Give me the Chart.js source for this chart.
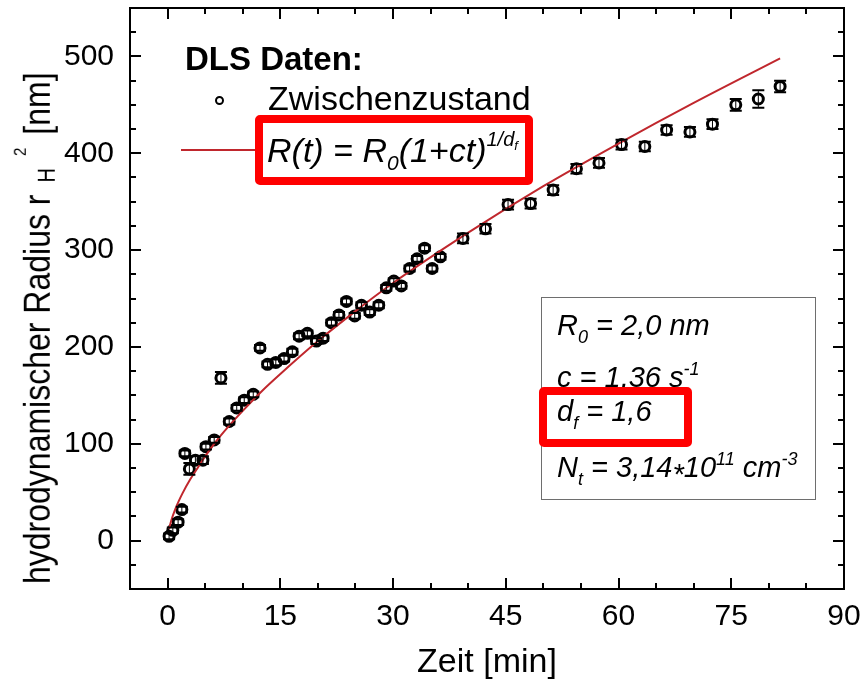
<!DOCTYPE html>
<html lang="de">
  <head>
    <meta charset="UTF-8" />
    <title>DLS Daten – Zwischenzustand</title>
    <script src="https://cdn.jsdelivr.net/npm/chart.js"></script>
    <style>
      * {
        margin: 0;
        padding: 0;
        box-sizing: border-box;
      }
      body {
        background: #fff;
        color: #000;
        font-family: "Liberation Sans", Arial, sans-serif;
      }
      .wrap {
        position: relative;
        width: 862px;
        height: 684px;
      }
      .wrap canvas {
        position: absolute;
        left: 0;
        top: 0;
      }
      .txt {
        position: absolute;
        line-height: 1;
        white-space: nowrap;
      }
      .it {
        font-style: italic;
      }
      /* Achsentitel links, von unten nach oben gelesen */
      .ytitle {
        position: absolute;
        left: 19px;
        top: 584px;
        font-size: 32px;
        line-height: 1;
        white-space: nowrap;
        transform-origin: 0 0;
        transform: rotate(-90deg) scaleY(1.15);
      }
      .ytitle span {
        position: relative;
      }
      .redbox {
        position: absolute;
        border: 8px solid #ff0000;
        border-radius: 5px;
      }
      .annot {
        position: absolute;
        left: 541px;
        top: 297px;
        width: 275px;
        height: 203px;
        border: 1px solid #6e6e6e;
      }
      .lo {
        font-size: 18px;
        vertical-align: -8px;
      }
      .hi {
        font-size: 18px;
        vertical-align: 12px;
      }
    </style>
  </head>
  <body>
    <div class="wrap">
      <canvas id="dlsChart" width="862" height="684"></canvas>

      <div class="ytitle">hydrodynamischer Radius r<span
          style="font-size: 20px; top: 4px; margin-left: 12px">H</span><span
          style="font-size: 15px; top: -21px; margin-left: 12px">2</span><span
          style="margin-left: 13px">[nm]</span></div>

      <!-- Legende -->
      <div class="txt" style="left: 185px; top: 42px; font-size: 33px; font-weight: bold">
        DLS Daten:
      </div>
      <div
        style="position: absolute; left: 215px; top: 96px; width: 9px; height: 9px;
          border: 2px solid #000; border-radius: 50%"
      ></div>
      <div class="txt" style="left: 268px; top: 81px; font-size: 34px">Zwischenzustand</div>
      <div
        style="position: absolute; left: 181px; top: 149px; width: 76px; height: 2px;
          background: #c0272d"
      ></div>
      <div class="txt it" style="left: 267px; top: 129px; font-size: 34px">
        R(t) = R<span style="font-size: 21px; vertical-align: -8px">0</span>(1+ct)<span
          style="font-size: 20px; vertical-align: 16px"
          >1/d<span style="font-size: 13px; vertical-align: -4px">f</span></span
        >
      </div>
      <div class="redbox" style="left: 255px; top: 115px; width: 278px; height: 70px"></div>

      <!-- Parameter der Anpassung -->
      <div class="annot"></div>
      <div class="txt it" style="left: 557px; top: 311px; font-size: 29px">
        R<span class="lo">0</span> = 2,0 nm
      </div>
      <div class="txt it" style="left: 557px; top: 360px; font-size: 29px">
        c = 1,36 s<span class="hi">-1</span>
      </div>
      <div class="txt it" style="left: 557px; top: 397px; font-size: 29px">
        d<span class="lo">f</span> = 1,6
      </div>
      <div class="txt it" style="left: 557px; top: 450px; font-size: 29px">
        N<span class="lo">t</span> = 3,14<span style="vertical-align: -7px">*</span>10<span
          class="hi"
          >11</span
        >
        cm<span class="hi">-3</span>
      </div>
      <div class="redbox" style="left: 539px; top: 387px; width: 153px; height: 60px"></div>
    </div>

    <script>
      // Messwerte (Zeit in min, r_H in nm, Fehler in nm)
      const zeit = [
        0.2, 0.7, 1.4, 1.9, 2.3, 2.9, 3.7, 4.7, 5.1, 6.2, 7.1, 8.2, 9.2, 10.2,
        11.4, 12.3, 13.3, 14.4, 15.5, 16.6, 17.5, 18.6, 19.8, 20.7, 21.8, 22.8,
        23.8, 24.9, 25.8, 26.9, 28.1, 29.1, 30.1, 31.1, 32.2, 33.2, 34.2, 35.2,
        36.3, 39.3, 42.3, 45.3, 48.3, 51.3, 54.4, 57.4, 60.4, 63.5, 66.4, 69.5,
        72.5, 75.6, 78.6, 81.5,
      ];
      const radius = [
        4.4, 10.6, 19, 32, 90, 74, 83, 83, 97, 104, 168, 123, 137, 145, 151, 199,
        182, 184, 188, 195, 211, 214, 206, 209, 225, 233, 247, 232, 243, 236, 243,
        261, 268, 263, 281, 291, 302, 281, 293, 312, 322, 347, 348, 362, 384, 390,
        409, 407, 424, 422, 430, 450, 456, 469,
      ];
      const fehler = [
        3, 3, 3, 3, 3, 6, 4, 4, 3, 3, 6, 3, 3, 3, 3, 3, 3, 3, 3, 3, 3, 3, 3, 3, 3,
        3, 3, 3, 3, 3, 3, 3, 3, 3, 3, 3, 3, 3, 3, 5, 5, 5, 5, 5, 5, 5, 5, 5, 5, 5,
        5, 6, 9, 6,
      ];

      // Anpassungskurve R(t)
      const fitZeit = [
        0.2, 0.5, 1, 1.5, 2, 3, 4, 5, 6.5, 8, 10, 12.5, 15, 20, 25, 30, 40, 50,
        60, 70, 81.5,
      ];
      const fitRadius = [
        12, 21, 32, 41, 49, 63, 75, 87, 103, 117, 134, 154, 172, 206, 237, 266,
        318, 366, 410, 452, 498,
      ];

      const xTicks = [0, 15, 30, 45, 60, 75, 90];
      const yTicks = [0, 100, 200, 300, 400, 500];
      const xMinorStep = 5;
      const yMinorStep = 25;

      const FONT = "'Liberation Sans', Arial, sans-serif";

      const errorBars = {
        id: "errorBars",
        afterDatasetsDraw(chart) {
          const meta = chart.getDatasetMeta(1);
          const y = chart.scales.y;
          const ctx = chart.ctx;
          ctx.save();
          ctx.strokeStyle = "#000";
          meta.data.forEach((pt, i) => {
            const top = y.getPixelForValue(radius[i] + fehler[i]);
            const bot = y.getPixelForValue(radius[i] - fehler[i]);
            ctx.lineWidth = 1;
            ctx.beginPath();
            ctx.moveTo(pt.x, top);
            ctx.lineTo(pt.x, bot);
            ctx.stroke();
            ctx.lineWidth = 2;
            ctx.beginPath();
            ctx.moveTo(pt.x - 6, top);
            ctx.lineTo(pt.x + 6, top);
            ctx.moveTo(pt.x - 6, bot);
            ctx.lineTo(pt.x + 6, bot);
            ctx.stroke();
          });
          ctx.restore();
        },
      };

      // Rahmen mit nach innen zeigenden Ticks auf allen vier Seiten
      const frame = {
        id: "frame",
        afterDraw(chart) {
          const { ctx, chartArea: a, scales } = chart;
          const x = scales.x;
          const y = scales.y;
          ctx.save();
          ctx.strokeStyle = "#000";
          ctx.lineWidth = 2;
          ctx.strokeRect(a.left, a.top, a.right - a.left, a.bottom - a.top);
          ctx.beginPath();
          for (let v = x.min + xMinorStep; v < x.max; v += xMinorStep) {
            const px = Math.round(x.getPixelForValue(v));
            const len = xTicks.includes(v) ? 11 : 6;
            ctx.moveTo(px, a.bottom);
            ctx.lineTo(px, a.bottom - len);
            ctx.moveTo(px, a.top);
            ctx.lineTo(px, a.top + len);
          }
          for (let v = y.min + yMinorStep; v < y.max; v += yMinorStep) {
            const py = Math.round(y.getPixelForValue(v));
            const len = yTicks.includes(v) ? 11 : 6;
            ctx.moveTo(a.left, py);
            ctx.lineTo(a.left + len, py);
            ctx.moveTo(a.right, py);
            ctx.lineTo(a.right - len, py);
          }
          ctx.stroke();
          ctx.restore();
        },
      };

      const noPad = (s) => {
        s.paddingTop = 0;
        s.paddingBottom = 0;
        s.paddingLeft = 0;
        s.paddingRight = 0;
      };

      new Chart(document.getElementById("dlsChart"), {
        type: "scatter",
        data: {
          datasets: [
            {
              label: "R(t)",
              data: fitZeit.map((t, i) => ({ x: t, y: fitRadius[i] })),
              showLine: true,
              borderColor: "#c0272d",
              borderWidth: 2,
              pointRadius: 0,
              cubicInterpolationMode: "monotone",
              order: 0,
            },
            {
              label: "Zwischenzustand",
              data: zeit.map((t, i) => ({ x: t, y: radius[i] })),
              pointStyle: "circle",
              pointRadius: 5,
              borderColor: "#000",
              backgroundColor: "rgba(0,0,0,0)",
              borderWidth: 3,
              order: 1,
            },
          ],
        },
        options: {
          responsive: false,
          animation: false,
          devicePixelRatio: 1,
          layout: { padding: { left: 0, right: 18, top: 7, bottom: 0 } },
          plugins: {
            legend: { display: false },
            tooltip: { enabled: false },
          },
          scales: {
            x: {
              type: "linear",
              min: -5,
              max: 90,
              grid: { display: false, drawTicks: false },
              border: { display: false },
              afterBuildTicks: (s) => {
                s.ticks = xTicks.map((v) => ({ value: v }));
              },
              afterFit: (s) => {
                s.height = 95;
                noPad(s);
              },
              ticks: {
                color: "#000",
                font: { family: FONT, size: 30 },
                padding: 10,
                maxRotation: 0,
              },
              title: {
                display: true,
                text: "Zeit [min]",
                color: "#000",
                font: { family: FONT, size: 34 },
                padding: { top: 0, bottom: 1 },
              },
            },
            y: {
              type: "linear",
              min: -50,
              max: 550,
              grid: { display: false, drawTicks: false },
              border: { display: false },
              afterBuildTicks: (s) => {
                s.ticks = yTicks.map((v) => ({ value: v }));
              },
              afterFit: (s) => {
                s.width = 130;
                noPad(s);
              },
              ticks: {
                color: "#000",
                font: { family: FONT, size: 30 },
                padding: 16,
              },
            },
          },
        },
        plugins: [errorBars, frame],
      });
    </script>
  </body>
</html>
